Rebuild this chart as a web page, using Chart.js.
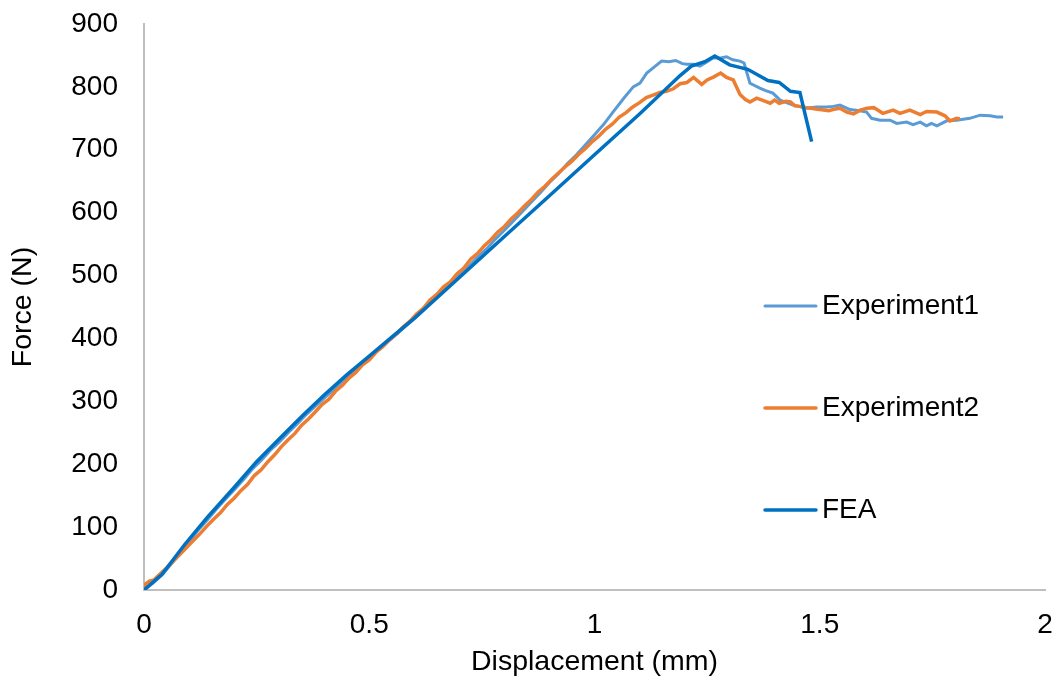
<!DOCTYPE html>
<html>
<head>
<meta charset="utf-8">
<script src="https://cdn.jsdelivr.net/npm/chart.js@4.4.1/dist/chart.umd.min.js"></script>
<style>
  html, body { margin: 0; padding: 0; background: #ffffff; }
  #wrap { width: 1058px; height: 681px; }
</style>
</head>
<body>
<div id="wrap"><canvas id="chart" width="1058" height="681"></canvas></div>
<script>
// Load–displacement curves: two test specimens and the finite element model
const seriesNames = ['Experiment1', 'Experiment2', 'FEA'];

const exp1Disp = [0, 0.02, 0.04, 0.06, 0.08, 0.10, 0.12, 0.14, 0.16, 0.18, 0.20, 0.22, 0.24, 0.26, 0.28, 0.30,
  0.32, 0.34, 0.36, 0.38, 0.40, 0.42, 0.44, 0.46, 0.48, 0.50, 0.52, 0.54, 0.56, 0.58, 0.60, 0.62, 0.64, 0.66,
  0.68, 0.70, 0.72, 0.74, 0.76, 0.78, 0.80, 0.82, 0.84, 0.86, 0.88, 0.90, 0.92, 0.94, 0.96, 0.98, 1.00, 1.02,
  1.041, 1.065, 1.086, 1.101, 1.116, 1.135, 1.149, 1.165, 1.18, 1.195, 1.205, 1.22, 1.234, 1.25, 1.263, 1.28,
  1.293, 1.307, 1.323, 1.332, 1.345, 1.353, 1.367, 1.38, 1.396, 1.412, 1.441, 1.471, 1.493, 1.515, 1.53, 1.545,
  1.567, 1.589, 1.604, 1.615, 1.634, 1.656, 1.671, 1.693, 1.707, 1.723, 1.737, 1.748, 1.76, 1.782, 1.804, 1.833,
  1.856, 1.878, 1.893, 1.907];
const exp1Force = [0, 11, 24, 41, 58, 77, 95, 111, 128, 144, 159, 175, 192, 206, 222, 235,
  250, 264, 279, 292, 305, 318, 332, 344, 357, 368, 382, 394, 406, 419, 432, 445, 460, 472,
  487, 501, 514, 529, 542, 558, 572, 587, 602, 617, 632, 648, 662, 678, 692, 708, 724, 740,
  760, 782, 800, 806, 822, 833, 841, 840, 842, 837, 836, 836, 833, 840, 846, 846,
  848, 843, 841, 838, 806, 803, 798, 794, 790, 779, 771, 766, 768, 768, 769, 771,
  764, 762, 760, 750, 747, 747, 742, 744, 740, 744, 738, 742, 738, 746, 747, 750,
  755, 754, 752, 752];

const exp2Disp = [0, 0.004, 0.012, 0.022, 0.035, 0.05, 0.065, 0.08, 0.095, 0.11, 0.125, 0.14, 0.155, 0.17,
  0.185, 0.20, 0.215, 0.23, 0.245, 0.26, 0.275, 0.29, 0.305, 0.32, 0.335, 0.35, 0.365, 0.38, 0.395, 0.41,
  0.425, 0.44, 0.455, 0.47, 0.485, 0.50, 0.515, 0.53, 0.545, 0.56, 0.575, 0.59, 0.605, 0.62, 0.635, 0.65,
  0.665, 0.68, 0.695, 0.71, 0.725, 0.74, 0.755, 0.77, 0.785, 0.80, 0.815, 0.83, 0.845, 0.86, 0.875, 0.89,
  0.905, 0.92, 0.935, 0.95, 0.965, 0.98, 0.995, 1.01, 1.025, 1.04, 1.055, 1.07, 1.085, 1.10, 1.115, 1.13,
  1.145, 1.16, 1.175, 1.19, 1.205, 1.22, 1.238, 1.25, 1.265, 1.28, 1.293, 1.308, 1.323, 1.335, 1.345, 1.36,
  1.375, 1.39, 1.40, 1.41, 1.425, 1.435, 1.445, 1.456, 1.47, 1.48, 1.50, 1.52, 1.535, 1.545, 1.56, 1.575,
  1.59, 1.605, 1.62, 1.64, 1.663, 1.678, 1.70, 1.723, 1.737, 1.76, 1.778, 1.789, 1.804, 1.811];
const exp2Force = [0, 10, 14, 16, 25, 35, 46, 57, 68, 79, 90, 102, 113, 123,
  136, 146, 158, 168, 182, 191, 204, 215, 228, 239, 249, 262, 272, 283, 295, 303,
  316, 325, 337, 346, 358, 366, 378, 387, 398, 407, 418, 427, 439, 448, 461, 470,
  482, 490, 503, 512, 526, 535, 547, 557, 569, 578, 590, 600, 611, 621, 633, 642,
  653, 663, 673, 682, 693, 702, 713, 722, 733, 741, 752, 759, 768, 775, 783, 787,
  791, 793, 797, 805, 807, 815, 804, 811, 816, 822, 815, 811, 788, 780, 776, 782,
  778, 774, 779, 774, 777, 776, 770, 769, 767, 766, 764, 762, 765, 766, 760, 757,
  763, 766, 767, 758, 763, 758, 763, 756, 761, 760, 754, 746, 750, 749];

const feaDisp = [0, 0.04, 0.09, 0.14, 0.20, 0.25, 0.30, 0.35, 0.40, 0.45, 0.50, 0.55, 0.60, 0.70, 0.80,
  0.90, 1.00, 1.10, 1.19, 1.215, 1.245, 1.267, 1.30, 1.34, 1.385, 1.41, 1.435, 1.456, 1.482];
const feaForce = [0, 25, 72, 115, 163, 204, 240, 276, 310, 342, 372, 402, 432, 497, 562,
  627, 692, 757, 818, 833, 840, 849, 835, 828, 810, 807, 793, 791, 713];

// Axis ticks
const xTickValues = [0, 0.5, 1, 1.5, 2];
const xTickLabels = ['0', '0.5', '1', '1.5', '2'];
const yTickValues = [0, 100, 200, 300, 400, 500, 600, 700, 800, 900];
const yTickLabels = ['0', '100', '200', '300', '400', '500', '600', '700', '800', '900'];

const seriesColors = ['#5B9BD5', '#ED7D31', '#0070C0'];
const seriesWidths = [3, 3.5, 3.5];

const toPoints = (xs, ys) => xs.map((x, i) => ({ x: x, y: ys[i] }));

const FONT = '"Liberation Sans", Arial, sans-serif';
const TEXT = '#000000';

// Legend drawn as a stacked column inside the plot area
const sideLegend = {
  id: 'sideLegend',
  afterDraw(chart, args, opts) {
    const ctx = chart.ctx;
    ctx.save();
    ctx.font = opts.fontSize + 'px ' + FONT;
    ctx.textBaseline = 'middle';
    ctx.textAlign = 'left';
    chart.data.datasets.forEach((ds, i) => {
      const y = opts.firstY + i * opts.stepY;
      ctx.strokeStyle = ds.borderColor;
      ctx.lineWidth = ds.borderWidth;
      ctx.lineCap = 'round';
      ctx.beginPath();
      ctx.moveTo(opts.lineX, y);
      ctx.lineTo(opts.lineX + opts.lineLen, y);
      ctx.stroke();
      ctx.fillStyle = TEXT;
      ctx.fillText(ds.label, opts.lineX + opts.lineLen + opts.gap, y);
    });
    ctx.restore();
  }
};

const datasets = [
  toPoints(exp1Disp, exp1Force),
  toPoints(exp2Disp, exp2Force),
  toPoints(feaDisp, feaForce)
].map((pts, i) => ({
  label: seriesNames[i],
  data: pts,
  borderColor: seriesColors[i],
  backgroundColor: seriesColors[i],
  borderWidth: seriesWidths[i],
  pointRadius: 0,
  tension: 0,
  fill: false,
  order: 2 - i
}));

const labelFor = (values, labels) => (v) => {
  const k = values.indexOf(v);
  return k >= 0 ? labels[k] : '';
};

new Chart(document.getElementById('chart'), {
  type: 'line',
  data: { datasets: datasets },
  options: {
    responsive: false,
    animation: false,
    events: [],
    layout: { padding: { left: 0, top: 24, right: 13, bottom: 0 } },
    plugins: {
      legend: { display: false },
      tooltip: { enabled: false },
      sideLegend: { lineX: 765, lineLen: 51, gap: 6, firstY: 306, stepY: 102, fontSize: 28 }
    },
    scales: {
      x: {
        type: 'linear',
        min: 0,
        max: 2,
        afterBuildTicks: (s) => { s.ticks = xTickValues.map(v => ({ value: v })); },
        afterFit: (s) => { s.height = 91; s.paddingLeft = 0; s.paddingRight = 0; },
        grid: { display: false, drawTicks: false },
        border: { display: true, color: '#BFBFBF', width: 2 },
        ticks: { color: TEXT, padding: 18, font: { family: FONT, size: 28 }, maxRotation: 0,
                 callback: labelFor(xTickValues, xTickLabels) },
        title: { display: true, text: 'Displacement (mm)', color: TEXT,
                 font: { family: FONT, size: 28.5 }, padding: { top: 0, bottom: 2 } }
      },
      y: {
        type: 'linear',
        min: 0,
        max: 900,
        afterBuildTicks: (s) => { s.ticks = yTickValues.map(v => ({ value: v })); },
        afterFit: (s) => { s.width = 144; s.paddingTop = 0; s.paddingBottom = 0; },
        grid: { display: false, drawTicks: false },
        border: { display: true, color: '#BFBFBF', width: 2 },
        ticks: { color: TEXT, padding: 26, font: { family: FONT, size: 28 },
                 callback: labelFor(yTickValues, yTickLabels) },
        title: { display: true, text: 'Force (N)', color: TEXT,
                 font: { family: FONT, size: 28.5 }, padding: { top: 6, bottom: 0 } }
      }
    }
  },
  plugins: [sideLegend]
});
</script>
</body>
</html>
